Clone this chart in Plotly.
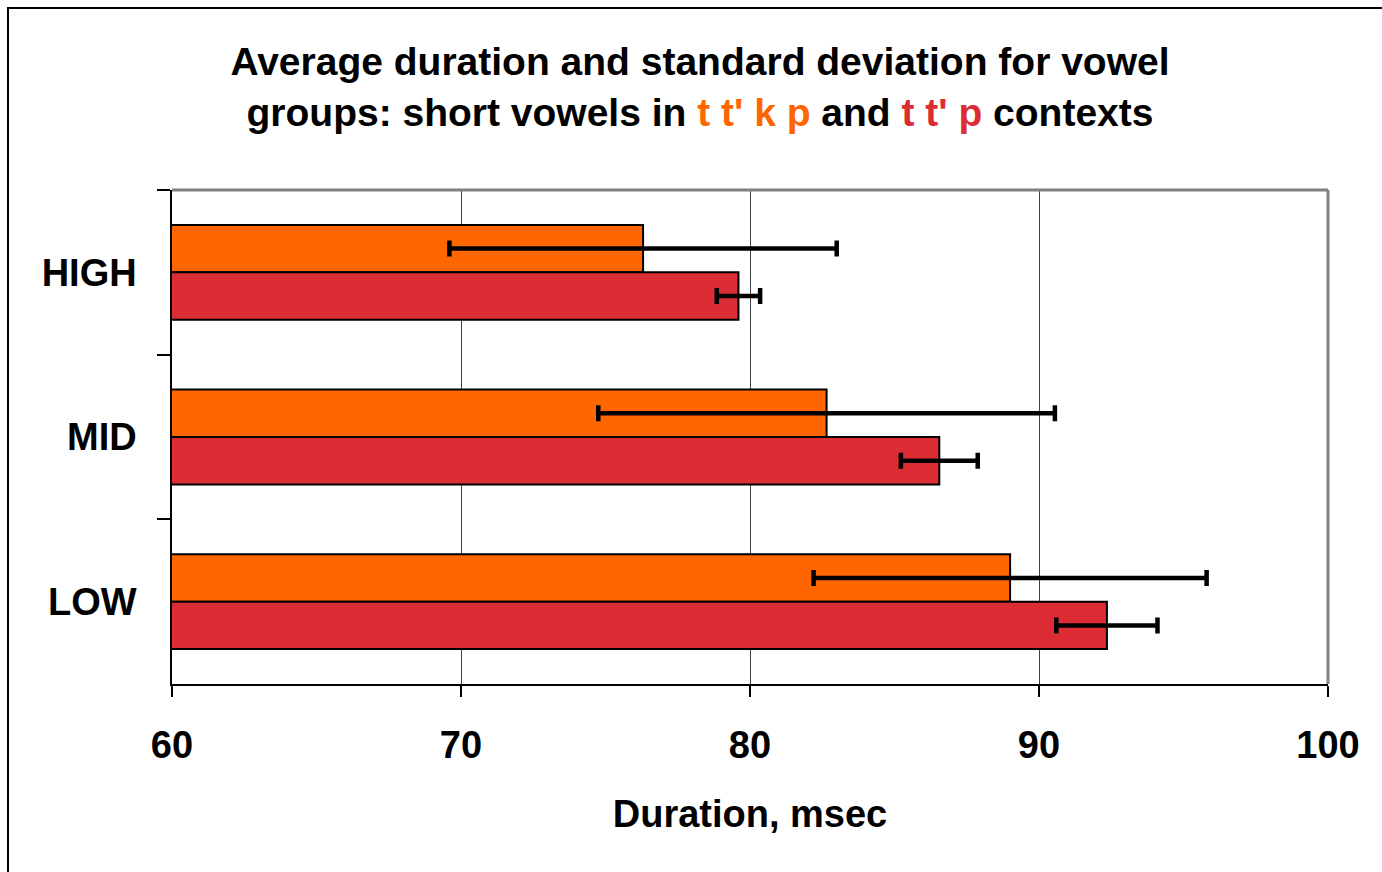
import plotly.graph_objects as go

categories = ["HIGH", "MID", "LOW"]
tkp_mean = [76.3, 82.65, 89.0]
tkp_sd = [6.7, 7.9, 6.8]
ttp_mean = [79.6, 86.55, 92.35]
ttp_sd = [0.75, 1.33, 1.75]

x_ticks = [60, 70, 80, 90, 100]

ORANGE = "#FF6600"
RED = "#DD2D34"
FONT = "Liberation Sans, Arial, sans-serif"

fig = go.Figure()
fig.add_trace(go.Bar(
    y=categories, x=tkp_mean, orientation="h", name="t t' k p",
    marker=dict(color=ORANGE, line=dict(color="black", width=2)),
    error_x=dict(type="data", array=tkp_sd, visible=True, color="black", thickness=4.5, width=8),
))
fig.add_trace(go.Bar(
    y=categories, x=ttp_mean, orientation="h", name="t t' p",
    marker=dict(color=RED, line=dict(color="black", width=2)),
    error_x=dict(type="data", array=ttp_sd, visible=True, color="black", thickness=4.5, width=8),
))

title_text = ("Average duration and standard deviation for vowel<br>"
              "groups: short vowels in <span style='color:%s'>t t' k p</span> and "
              "<span style='color:%s'>t t' p</span> contexts") % (ORANGE, RED)

fig.update_layout(
    width=1382, height=872,
    margin=dict(l=172, r=54, t=190, b=188, autoexpand=False),
    paper_bgcolor="white", plot_bgcolor="white",
    showlegend=False,
    barmode="group", bargap=0.424, bargroupgap=0,
    font=dict(family=FONT, color="black"),
    title=dict(text=title_text, x=700/1382, xref="container", xanchor="center",
               y=1 - 75/872, yref="container", yanchor="middle",
               font=dict(family=FONT, size=39, weight="bold", color="black")),
)

fig.update_xaxes(
    range=[60, 100], tickvals=x_ticks, ticktext=[str(v) for v in x_ticks],
    showgrid=True, gridcolor="#404040", gridwidth=1,
    showline=True, linecolor="black", linewidth=1.5,
    ticks="outside", ticklen=11, tickcolor="black", tickwidth=1.5,
    tickfont=dict(family=FONT, size=38, weight="bold"),
    ticklabelstandoff=16,
    title=dict(text="Duration, msec", font=dict(family=FONT, size=38, weight="bold"), standoff=35),
    zeroline=False,
)
fig.update_yaxes(
    type="category", categoryorder="array", categoryarray=categories, autorange="reversed",
    showline=True, linecolor="black", linewidth=1.5,
    ticks="outside", ticklen=13, tickcolor="black", tickwidth=1.5, tickson="boundaries",
    tickfont=dict(family=FONT, size=38, weight="bold"),
    ticklabelstandoff=26,
    showgrid=False,
)

# gray top/right plot borders
fig.add_shape(type="line", xref="paper", yref="paper", x0=0, x1=1, y0=1, y1=1,
              line=dict(color="#808080", width=3))
fig.add_shape(type="line", xref="paper", yref="paper", x0=1, x1=1, y0=0, y1=1,
              line=dict(color="#808080", width=3))
# outer chart frame (extends beyond the page on the right/bottom)
fig.add_shape(type="rect", xref="paper", yref="paper",
              x0=(8 - 172) / 1156, x1=(1420 - 172) / 1156,
              y0=(684 - 920) / 494, y1=(684 - 8) / 494,
              line=dict(color="black", width=2), fillcolor="rgba(0,0,0,0)", layer="below")

fig.write_html("out.html")
